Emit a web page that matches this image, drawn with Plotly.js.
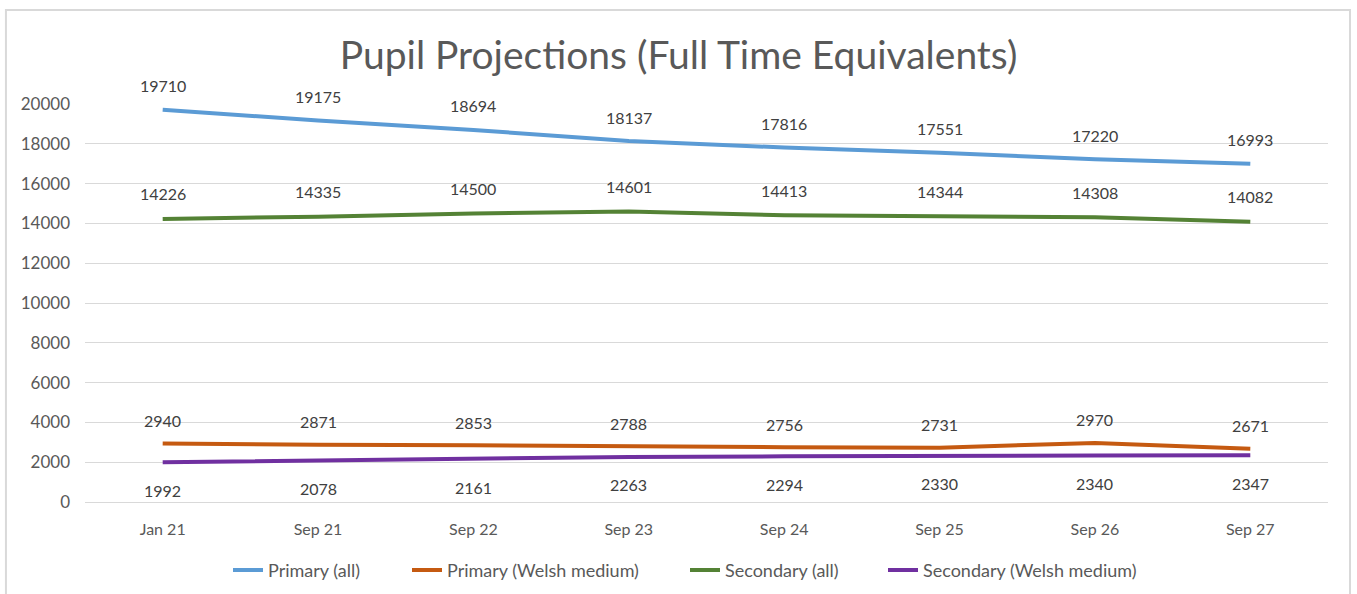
<!DOCTYPE html>
<html><head><meta charset="utf-8">
<script src="https://cdn.plot.ly/plotly-3.0.1.min.js"></script>
<style>html,body{margin:0;padding:0;background:#fff}#chart{width:1357px;height:594px}</style>
</head><body><div id="chart"></div>
<script>
const categories = ["Jan 21","Sep 21","Sep 22","Sep 23","Sep 24","Sep 25","Sep 26","Sep 27"];
const primaryAll = [19710,19175,18694,18137,17816,17551,17220,16993];
const primaryWelsh = [2940,2871,2853,2788,2756,2731,2970,2671];
const secondaryAll = [14226,14335,14500,14601,14413,14344,14308,14082];
const secondaryWelsh = [1992,2078,2161,2263,2294,2330,2340,2347];
const seriesNames = ["Primary (all)","Primary (Welsh medium)","Secondary (all)","Secondary (Welsh medium)"];
const colors = ["#5B9BD5","#C55A11","#548235","#7030A0"];
const labelShift = [24, 23, 25, -28];
const legendTextStart = [268, 447, 725, 923];

const allData = [primaryAll, primaryWelsh, secondaryAll, secondaryWelsh];
const legendIds = ['legend', 'legend2', 'legend3', 'legend4'];
const traces = allData.map((ys, i) => ({
  x: categories, y: ys, type: 'scatter', mode: 'lines', name: seriesNames[i],
  line: {color: colors[i], width: 4}, legend: legendIds[i]
}));
const annotations = [];
allData.forEach((ys, i) => ys.forEach((v, j) => annotations.push({
  x: categories[j], y: v, xref: 'x', yref: 'y', text: String(v), showarrow: false,
  yshift: labelShift[i], font: {size: 16, color: '#404040', family: 'Lato, Carlito, sans-serif'}
})));
const layout = {
  width: 1357, height: 594,
  margin: {l: 85, r: 29, t: 104, b: 92, autoexpand: false},
  paper_bgcolor: '#fff', plot_bgcolor: '#fff',
  font: {family: 'Lato, Carlito, sans-serif', color: '#595959', size: 16},
  title: {text: 'Pupil Projections (Full Time Equivalents)', x: 0.5, xanchor: 'center', y: 0.907, yanchor: 'middle',
    font: {size: 39, color: '#595959', family: 'Lato, Carlito, sans-serif'}},
  xaxis: {type: 'category', range: [-0.5, 7.5], showgrid: false, zeroline: false, showline: false,
    ticks: '', ticklabelstandoff: 16, tickfont: {size: 16, color: '#595959'}, fixedrange: true},
  yaxis: {range: [0, 20000], dtick: 2000, showgrid: true, gridcolor: '#d9d9d9', gridwidth: 1,
    zeroline: true, zerolinecolor: '#d9d9d9', zerolinewidth: 1, showline: false, ticks: '',
    tickformat: 'd', ticklabelstandoff: 14, tickfont: {size: 17, color: '#595959'}},
  showlegend: true,
  annotations: annotations,
  shapes: [{type: 'rect', xref: 'paper', yref: 'paper', x0: -0.0636, x1: 1.0177, y0: -0.26, y1: 1.236,
    line: {color: '#d9d9d9', width: 2}, fillcolor: 'rgba(0,0,0,0)', layer: 'below'}]
};
legendIds.forEach((id, i) => {
  layout[id] = {orientation: 'h', xref: 'container', yref: 'container',
    x: (legendTextStart[i] - 40) / 1357, xanchor: 'left', y: 0.04, yanchor: 'middle',
    font: {size: 18, color: '#595959'}, itemwidth: 30, bgcolor: 'rgba(0,0,0,0)'};
});
Plotly.newPlot('chart', traces, layout, {displayModeBar: false, staticPlot: true});
</script></body></html>
